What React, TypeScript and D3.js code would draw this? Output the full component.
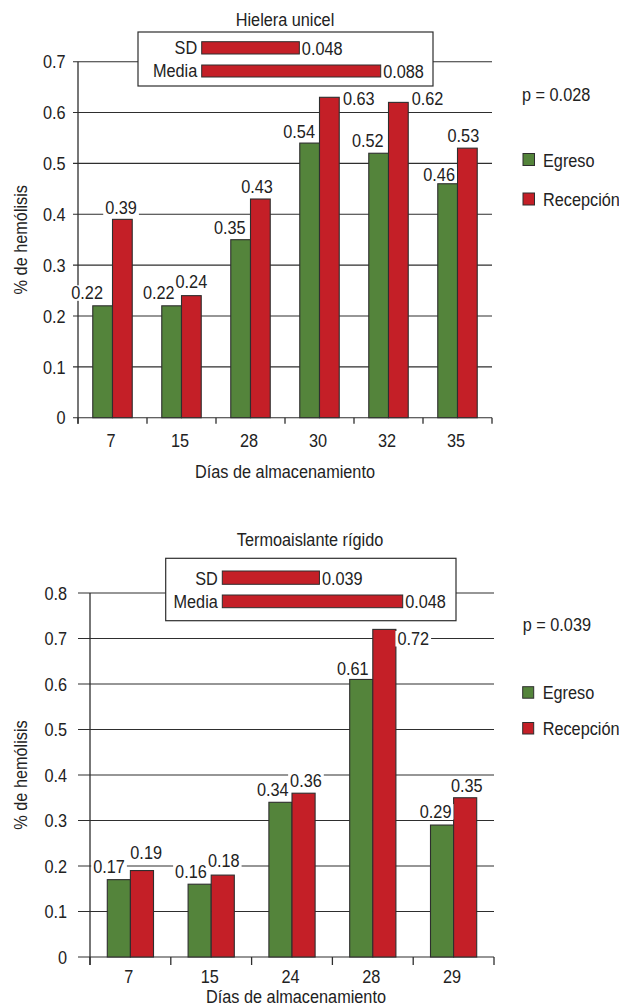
import React from "react";
import * as d3 from "d3";

// ---------- DATA ----------
const series = ["Egreso", "Recepción"];

const days1 = ["7", "15", "28", "30", "32", "35"];
const egreso1 = [0.22, 0.22, 0.35, 0.54, 0.52, 0.46];
const recepcion1 = [0.39, 0.24, 0.43, 0.63, 0.62, 0.53];
const yTicks1 = [0, 0.1, 0.2, 0.3, 0.4, 0.5, 0.6, 0.7];
const inset1 = [
  { label: "SD", value: 0.048 },
  { label: "Media", value: 0.088 },
];
const pText1 = "p = 0.028";
const title1 = "Hielera unicel";

const days2 = ["7", "15", "24", "28", "29"];
const egreso2 = [0.17, 0.16, 0.34, 0.61, 0.29];
const recepcion2 = [0.19, 0.18, 0.36, 0.72, 0.35];
const yTicks2 = [0, 0.1, 0.2, 0.3, 0.4, 0.5, 0.6, 0.7, 0.8];
const inset2 = [
  { label: "SD", value: 0.039 },
  { label: "Media", value: 0.048 },
];
const pText2 = "p = 0.039";
const title2 = "Termoaislante rígido";

const xTitle = "Días de almacenamiento";
const yTitle = "% de hemólisis";

// ---------- STYLE ----------
const FONT = "'Liberation Sans', Arial, Helvetica, sans-serif";
const FS = 18.5;
const SX = 0.88; // horizontal condensing of the text
const GREEN = "#54843b";
const RED = "#c41f27";
const STROKE = "#2e2e2e";
const colors = [GREEN, RED];

type Nudge = { dx: number; dy: number; right?: boolean };

const nudges1: Nudge[][] = [
  [
    { dx: -15.5, dy: -6.5 },
    { dx: -12.8, dy: -6.5 },
    { dx: -10.8, dy: -6 },
    { dx: -10.5, dy: -5 },
    { dx: -10.8, dy: -6 },
    { dx: -8.5, dy: -2.4 },
  ],
  [
    { dx: -1.3, dy: -5.7 },
    { dx: 0, dy: -8 },
    { dx: -3.3, dy: -6 },
    { dx: 3.7, dy: 8, right: true },
    { dx: 3.4, dy: 3, right: true },
    { dx: -4, dy: -6 },
  ],
];
const nudges2: Nudge[][] = [
  [
    { dx: -9.8, dy: -6.3 },
    { dx: -8.7, dy: -6 },
    { dx: -7.6, dy: -6 },
    { dx: -8.5, dy: -4.5 },
    { dx: -6.4, dy: -7 },
  ],
  [
    { dx: 4.2, dy: -12 },
    { dx: 1, dy: -8 },
    { dx: 2.4, dy: -6 },
    { dx: 1.5, dy: 15.6, right: true },
    { dx: 1.6, dy: -6 },
  ],
];

const layout1 = {
  plotLeft: 78, plotRight: 492, yTop: 61.7, yBottom: 417.7,
  tickLen: 5, tickGap: 7.5, bottomTick: 6, xTickY: 446.7,
  title: { x: 285, y: 25.5 },
  box: { x: 138, y: 32, w: 295, h: 54 },
  insetX: 201.7, insetBars: [{ y: 41.7, h: 12.3 }, { y: 65, h: 12 }],
  insetDomain: [0, 0.088], insetRange: 179,
  p: { x: 522, y: 101 },
  legend: { x: 523, ys: [153.5, 193], size: 11.5 },
  xTitle: { x: 285, y: 478 }, yTitleX: 20.5,
};
const layout2 = {
  plotLeft: 90, plotRight: 494, yTop: 593, yBottom: 957,
  tickLen: 12, tickGap: 11, bottomTick: 8, xTickY: 983.3,
  title: { x: 310, y: 546 },
  box: { x: 165.7, y: 558.3, w: 290.3, h: 62.4 },
  insetX: 222.3, insetBars: [{ y: 571, h: 13.3 }, { y: 595, h: 12.7 }],
  insetDomain: [0.0285, 0.048], insetRange: 180.4,
  p: { x: 522.7, y: 631 },
  legend: { x: 522.7, ys: [686.7, 722.5], size: 11 },
  xTitle: { x: 296, y: 1003 }, yTitleX: 20.5,
};

const textW = (s: string) =>
  s.split("").reduce((a, c) => a + (c === "." ? 0.278 : 0.556), 0) * SX * FS;

// condensed text helper
function T({ x, y, anchor = "start", rotate = 0, dy, children }: any) {
  return (
    <text transform={`translate(${x},${y})${rotate ? ` rotate(${rotate})` : ""} scale(${SX},1)`}
      textAnchor={anchor} dy={dy}>{children}</text>
  );
}

function Panel({ days, values, yTicks, inset, pText, title, nudges, L }: any) {
  const x = d3.scaleBand<string>().domain(days).range([L.plotLeft, L.plotRight]).padding(0);
  const bw = x.bandwidth();
  const xs = d3.scaleBand<string>().domain(series).range([bw * 0.214, bw * 0.786]).padding(0);
  const y = d3.scaleLinear().domain([0, yTicks[yTicks.length - 1]]).range([L.yBottom, L.yTop]);
  const ix = d3.scaleLinear().domain(L.insetDomain).range([0, L.insetRange]);
  const fmtTick = (v: number) => (v === 0 ? "0" : v.toFixed(1));
  const yMid = (L.yTop + L.yBottom) / 2;

  return (
    <g fontFamily={FONT} fontSize={FS} fill="#222">
      {/* gridlines + y ticks */}
      {yTicks.map((t: number) => (
        <g key={t}>
          <line x1={L.plotLeft - L.tickLen} x2={L.plotRight} y1={y(t)} y2={y(t)} stroke={STROKE} strokeWidth={1.1} />
          <T x={L.plotLeft - L.tickLen - L.tickGap} y={y(t)} dy="0.36em" anchor="end">{fmtTick(t)}</T>
        </g>
      ))}
      {/* y axis */}
      <line x1={L.plotLeft} x2={L.plotLeft} y1={L.yTop} y2={L.yBottom + L.bottomTick} stroke={STROKE} strokeWidth={1.3} />
      {/* bottom ticks */}
      {[...days.map((d: string) => x(d)!), L.plotRight].map((v: number, i: number) => (
        <line key={i} x1={v} x2={v} y1={L.yBottom} y2={L.yBottom + L.bottomTick} stroke={STROKE} strokeWidth={1.3} />
      ))}
      {days.map((d: string) => (
        <T key={d} x={x(d)! + bw / 2 - 1.5} y={L.xTickY} anchor="middle">{d}</T>
      ))}
      {/* inset box */}
      <rect x={L.box.x} y={L.box.y} width={L.box.w} height={L.box.h} fill="#fff" stroke={STROKE} strokeWidth={1.2} />
      {inset.map((r: any, i: number) => {
        const b = L.insetBars[i];
        const w = ix(r.value);
        return (
          <g key={r.label}>
            <T x={L.insetX - 4.5} y={b.y + b.h + 0.3} anchor="end">{r.label}</T>
            <rect x={L.insetX} y={b.y} width={w} height={b.h} fill={RED} stroke={STROKE} strokeWidth={1} />
            <T x={L.insetX + w + 2.5} y={b.y + b.h + 0.6}>{r.value.toFixed(3)}</T>
          </g>
        );
      })}
      {/* bars */}
      {values.map((vals: number[], s: number) =>
        vals.map((v: number, i: number) => (
          <rect key={s + "-" + i} x={x(days[i])! + xs(series[s])!} y={y(v)} width={xs.bandwidth()} height={y(0) - y(v)}
            fill={colors[s]} stroke={STROKE} strokeWidth={1.1} />
        ))
      )}
      {/* value labels */}
      {values.map((vals: number[], s: number) =>
        vals.map((v: number, i: number) => {
          const n = nudges[s][i];
          const label = v.toFixed(2);
          const tw = textW(label);
          const cx = x(days[i])! + xs(series[s])! + xs.bandwidth() / 2;
          const by = y(v) + n.dy;
          const left = n.right ? cx + xs.bandwidth() / 2 + n.dx : cx + n.dx - tw / 2;
          return (
            <g key={"l" + s + "-" + i}>
              <rect x={left - 2} y={by - 14} width={tw + 4} height={15.5} fill="#fff" />
              <T x={left} y={by}>{label}</T>
            </g>
          );
        })
      )}
      {/* titles */}
      <T x={L.title.x} y={L.title.y} anchor="middle">{title}</T>
      <T x={L.xTitle.x} y={L.xTitle.y} anchor="middle">{xTitle}</T>
      <T x={L.yTitleX} y={yMid} rotate={-90} anchor="middle" dy="0.36em">{yTitle}</T>
      {/* p value and legend */}
      <T x={L.p.x} y={L.p.y}>{pText}</T>
      {series.map((s, i) => (
        <g key={s}>
          <rect x={L.legend.x} y={L.legend.ys[i]} width={L.legend.size} height={L.legend.size + 0.5}
            fill={colors[i]} stroke={STROKE} strokeWidth={1} />
          <T x={L.legend.x + 20} y={L.legend.ys[i] + L.legend.size + 1.5}>{s}</T>
        </g>
      ))}
    </g>
  );
}

export default function App() {
  return (
    <div style={{ position: "absolute", left: 0, top: 0, width: 619, height: 1007, background: "#fff" }}>
      <svg width={619} height={1007} style={{ display: "block" }}>
        <rect width={619} height={1007} fill="#fff" />
        <Panel days={days1} values={[egreso1, recepcion1]} yTicks={yTicks1} inset={inset1} pText={pText1}
          title={title1} nudges={nudges1} L={layout1} />
        <Panel days={days2} values={[egreso2, recepcion2]} yTicks={yTicks2} inset={inset2} pText={pText2}
          title={title2} nudges={nudges2} L={layout2} />
      </svg>
    </div>
  );
}
